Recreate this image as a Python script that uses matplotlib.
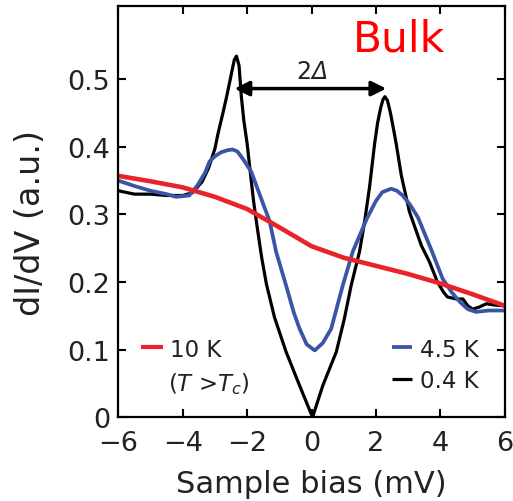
import matplotlib
matplotlib.use("Agg")
import matplotlib.pyplot as plt

# ---- data ----
x_black = [-6.0, -5.5, -5.0, -4.5, -4.0, -3.7, -3.4, -3.2, -3.0, -2.9, -2.75, -2.64, -2.5, -2.4,
           -2.33, -2.25, -2.18, -2.1, -2.0, -1.9, -1.8, -1.68, -1.55, -1.40, -1.15, -0.79, -0.37,
           0.0, 0.03, 0.35, 0.77, 1.02, 1.23, 1.49, 1.65, 1.80, 1.96, 2.05, 2.15, 2.22, 2.28,
           2.36, 2.45, 2.55, 2.63, 2.79, 3.04, 3.41, 3.66, 3.91, 4.10, 4.22, 4.5, 4.7, 4.85,
           5.0, 5.2, 5.43, 5.7, 6.0]
y_black = [0.335, 0.330, 0.330, 0.328, 0.328, 0.332, 0.348, 0.368, 0.397, 0.420, 0.450, 0.473, 0.505, 0.528,
           0.534, 0.520, 0.475, 0.438, 0.405, 0.362, 0.320, 0.279, 0.237, 0.197, 0.148, 0.097, 0.047,
           0.004, 0.0, 0.047, 0.097, 0.146, 0.195, 0.245, 0.290, 0.340, 0.405, 0.435, 0.458, 0.470, 0.474,
           0.468, 0.450, 0.425, 0.404, 0.357, 0.304, 0.254, 0.230, 0.200, 0.185, 0.178, 0.175, 0.175, 0.165,
           0.160, 0.163, 0.168, 0.166, 0.165]

x_blue = [-6.0, -5.5, -5.0, -4.5, -4.2, -3.8, -3.54, -3.3, -3.17, -3.0, -2.8, -2.6, -2.45, -2.3,
          -2.1, -1.87, -1.56, -1.30, -1.10, -0.79, -0.55, -0.37, -0.15, 0.1, 0.35, 0.61, 0.97,
          1.28, 1.72, 2.0, 2.2, 2.47, 2.65, 2.83, 3.05, 3.3, 3.7, 4.07, 4.35, 4.6, 4.85, 5.1, 5.5, 6.0]
y_blue = [0.350, 0.342, 0.335, 0.330, 0.326, 0.328, 0.343, 0.362, 0.378, 0.386, 0.392, 0.395, 0.396, 0.393,
          0.380, 0.363, 0.323, 0.290, 0.245, 0.195, 0.155, 0.131, 0.108, 0.099, 0.110, 0.131, 0.195,
          0.245, 0.294, 0.320, 0.333, 0.338, 0.335, 0.328, 0.315, 0.296, 0.250, 0.205, 0.185, 0.171, 0.160, 0.156, 0.158, 0.158]

x_red = [-6.0, -5.0, -4.0, -3.0, -2.0, -1.0, 0.0, 1.0, 2.0, 3.0, 4.0, 5.0, 6.0]
y_red = [0.357, 0.349, 0.340, 0.326, 0.308, 0.281, 0.253, 0.236, 0.224, 0.212, 0.198, 0.182, 0.165]

x_ticks = [-6, -4, -2, 0, 2, 4, 6]
y_ticks = [0, 0.1, 0.2, 0.3, 0.4, 0.5]
y_ticklabels = ["0", "0.1", "0.2", "0.3", "0.4", "0.5"]
gap_x = [-2.39, 2.32]
gap_y = 0.486

plt.rcParams['font.family'] = ['DejaVu Sans']
plt.rcParams['mathtext.fontset'] = 'dejavusans'

TXT = '#222222'
RED = '#e8232a'
BLUE = '#3b55a6'

fig = plt.figure(figsize=(5.13, 5.02), dpi=100)
ax = fig.add_axes([0.2305, 0.1665, 0.7535, 0.8195])

ax.plot(x_black, y_black, color='black', lw=2.3, solid_joinstyle='round')
ax.plot(x_blue, y_blue, color=BLUE, lw=2.7, solid_joinstyle='round')
ax.plot(x_red, y_red, color=RED, lw=3.3, solid_joinstyle='round')

ax.set_xlim(-6, 6)
ax.set_ylim(0, 0.608)
ax.set_xticks(x_ticks)
ax.set_xticklabels([str(t).replace('-', '\u2212') for t in x_ticks])
ax.set_yticks(y_ticks)
ax.set_yticklabels(y_ticklabels)
ax.tick_params(direction='in', length=6, width=1.5, top=True, right=True,
               labelsize=19.5, colors='black', labelcolor=TXT, pad=6)
ax.tick_params(axis='x', pad=9)
for s in ax.spines.values():
    s.set_linewidth(1.6)

ax.set_xlabel('Sample bias (mV)', fontsize=22, color=TXT)
ax.xaxis.set_label_coords(0.5, -0.16)
ax.xaxis.label.set_va('center')
ax.set_ylabel('dI/dV (a.u.)', fontsize=24, color=TXT)
ax.yaxis.set_label_coords(-0.226, 0.475)
ax.yaxis.label.set_va('center')

# gap arrow
ax.annotate('', xy=(gap_x[1], gap_y), xytext=(gap_x[0], gap_y),
            arrowprops=dict(arrowstyle='<|-|>', color='black', lw=2.5,
                            mutation_scale=22, shrinkA=0, shrinkB=0))
ax.text(0.500, 0.842, '2', transform=ax.transAxes, ha='right', va='center',
        fontsize=17, color=TXT)
ax.text(0.500, 0.842, '\u0394', transform=ax.transAxes, ha='left', va='center',
        fontsize=17, color=TXT, fontstyle='italic')

ax.text(0.607, 0.891, 'Bulk', transform=ax.transAxes, ha='left', va='baseline',
        fontsize=30.5, color='#ff0000')

# legend (manual)
def key(x0, x1, y, c, lw):
    ax.plot([x0, x1], [y, y], transform=ax.transAxes, color=c, lw=lw, solid_capstyle='butt')

key(0.058, 0.115, 0.172, RED, 3.0)
ax.text(0.133, 0.166, '10 K', transform=ax.transAxes, ha='left', va='center', fontsize=16.5, color=TXT)
ax.text(0.130, 0.083, r'($\mathit{T}$ >$\mathit{T}_{c}$)', transform=ax.transAxes, ha='left',
        va='center', fontsize=16.5, color=TXT)
key(0.708, 0.759, 0.172, BLUE, 2.7)
ax.text(0.780, 0.166, '4.5 K', transform=ax.transAxes, ha='left', va='center', fontsize=16.5, color=TXT)
key(0.708, 0.759, 0.094, 'black', 2.3)
ax.text(0.780, 0.089, '0.4 K', transform=ax.transAxes, ha='left', va='center', fontsize=16.5, color=TXT)

fig.savefig('out.png', dpi=100)
